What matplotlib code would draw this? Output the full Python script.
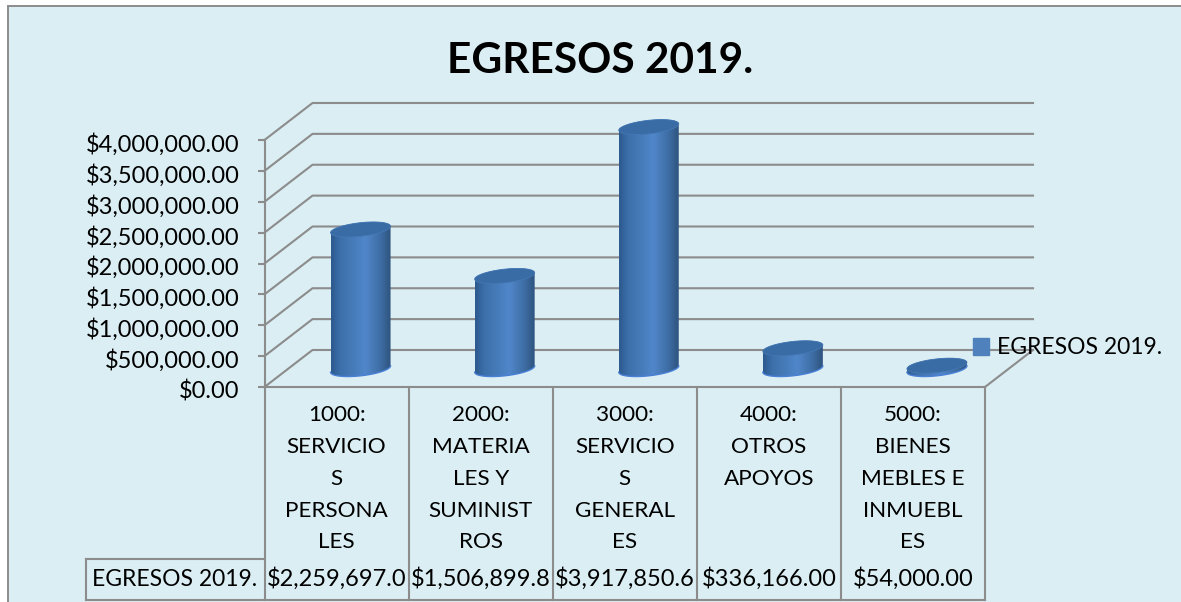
import matplotlib
matplotlib.use('Agg')
import matplotlib.pyplot as plt
import numpy as np
from matplotlib.colors import LinearSegmentedColormap
from matplotlib.patches import Patch, Polygon, Rectangle
from matplotlib.transforms import Affine2D, blended_transform_factory

plt.rcParams['font.family'] = ['Lato', 'DejaVu Sans']

categories = ['1000:\nSERVICIO\nS\nPERSONA\nLES',
              '2000:\nMATERIA\nLES Y\nSUMINIST\nROS',
              '3000:\nSERVICIO\nS\nGENERAL\nES',
              '4000:\nOTROS\nAPOYOS',
              '5000:\nBIENES\nMEBLES E\nINMUEBL\nES']
values = [2259697.0, 1506899.8, 3917850.6, 336166.0, 54000.0]
table_labels = ['$2,259,697.0', '$1,506,899.8', '$3,917,850.6', '$336,166.00', '$54,000.00']
y_ticks = [0, 500000, 1000000, 1500000, 2000000, 2500000, 3000000, 3500000, 4000000]
series_name = 'EGRESOS 2019.'

W, H = 1181, 602
grey = '#8c8c8c'
bg = '#DAEEF3'
fs = 16.5
fs_num = 17

fig = plt.figure(figsize=(W / 100, H / 100), dpi=100, facecolor='white')
# pixels measured from the top left of the image
pix = Affine2D().scale(1, -1).translate(0, H)

# no right or bottom edge, the picture is cut there
fig.add_artist(Rectangle((8, 5.5), 1200, 620, transform=pix, facecolor=bg,
                         edgecolor=grey, linewidth=1.4, zorder=-1))

# front plane of the 3d box
x0, x1, y0, y1 = 264.5, 985, 387, 140
ax = fig.add_axes([x0 / W, 1 - y0 / H, (x1 - x0) / W, (y0 - y1) / H])
ax.set_xlim(0, 5)
ax.set_ylim(0, 4000000)
ax.patch.set_alpha(0)

px_x = 5 / (x1 - x0)
px_y = 4000000 / (y0 - y1)
depth_x = 48 * px_x
depth_y = 37 * px_y

for s in ['top', 'right']:
    ax.spines[s].set_visible(False)
for s in ['left', 'bottom']:
    ax.spines[s].set_color(grey)
    ax.spines[s].set_linewidth(1.5)
ax.set_xticks([])
ax.set_yticks(y_ticks)
ax.set_yticklabels([f'${v:,.2f}' for v in y_ticks], fontsize=fs_num, color='black')
ax.tick_params(axis='y', length=5, width=1.5, color=grey, pad=13)
for lbl in ax.get_yticklabels():
    lbl.set_transform(lbl.get_transform() + Affine2D().translate(0, -2.5))

# walls
for v in y_ticks:
    ax.plot([0, depth_x, 5 + depth_x], [v, v + depth_y, v + depth_y], color=grey,
            lw=1.5, clip_on=False, zorder=1)
ax.plot([5, 5 + depth_x], [0, depth_y], color=grey, lw=1.5, clip_on=False, zorder=1)

# cylinders
cyl_cmap = LinearSegmentedColormap.from_list('cyl', [(0, '#2d5a8f'), (0.15, '#3c70aa'),
                                                     (0.58, '#5087ca'), (0.82, '#3f6ea6'),
                                                     (1, '#2f5580')])
a = 30 * px_x
b = 6.8 * px_y
k = 3.2 * px_y
t = np.linspace(0, 2 * np.pi, 121)

for i, v in enumerate(values):
    cx = i + 0.5 + depth_x / 2
    base = depth_y / 2 - 0.5 * px_y
    top = base + v
    lower = np.linspace(np.pi, 2 * np.pi, 60)
    upper = np.linspace(0, np.pi, 60)
    xs = np.r_[cx + a * np.cos(lower), cx + a * np.cos(upper)]
    ys = np.r_[base + b * np.sin(lower) + k * np.cos(lower),
               top + b * np.sin(upper) + k * np.cos(upper)]
    body = Polygon(np.c_[xs, ys], closed=True, facecolor='none', edgecolor='none', zorder=3,
                   clip_on=False)
    ax.add_patch(body)
    im = ax.imshow(np.linspace(0, 1, 80).reshape(1, -1), cmap=cyl_cmap, aspect='auto',
                   extent=(cx - a, cx + a, base - 2 * b, top + 2 * b), zorder=3)
    im.set_clip_box(fig.bbox)
    im.set_clip_path(body)
    ax.plot(cx + a * np.cos(lower), base + b * np.sin(lower) + k * np.cos(lower),
            color='#4a7fd6', lw=1, zorder=4, clip_on=False)
    ax.fill(cx + a * np.cos(t), top + b * np.sin(t) + k * np.cos(t), color='#396ba4',
            lw=0.6, ec='#4478b4', zorder=5, clip_on=False)
ax.set_xlim(0, 5)
ax.set_ylim(0, 4000000)

# data table under the plot
tbl = blended_transform_factory(ax.transData, pix)
left_cell = (86 - x0) * px_x
for i in range(6):
    ax.plot([i, i], [y0, 600], color=grey, lw=1.5, transform=tbl, clip_on=False)
ax.plot([left_cell, 5], [600, 600], color=grey, lw=1.5, transform=tbl, clip_on=False)
ax.plot([left_cell, 0], [559, 559], color=grey, lw=1.5, transform=tbl, clip_on=False)
ax.plot([left_cell, left_cell], [559, 600], color=grey, lw=1.5, transform=tbl, clip_on=False)

for i, c in enumerate(categories):
    ax.text(i + 0.5, 405, c, transform=tbl, ha='center', va='top', fontsize=16.2,
            linespacing=1.74, clip_on=False)
    ax.text(i + 0.5, 579, table_labels[i], transform=tbl, ha='center', va='center',
            fontsize=fs_num, clip_on=False)
fig.text(175, 579, series_name, transform=pix, ha='center', va='center', fontsize=fs)

fig.text(600, 61, series_name, transform=pix, ha='center', va='center', fontsize=30.5,
         fontweight='bold')

leg = ax.legend(handles=[Patch(color='#4F81BD', label=series_name)], loc='center left',
                bbox_to_anchor=(973, 348), bbox_transform=pix, frameon=False, fontsize=fs,
                handlelength=0.7, handleheight=0.7, handletextpad=0.35, borderpad=0,
                borderaxespad=0)
leg.set_zorder(6)

fig.savefig('out.png', dpi=100)
